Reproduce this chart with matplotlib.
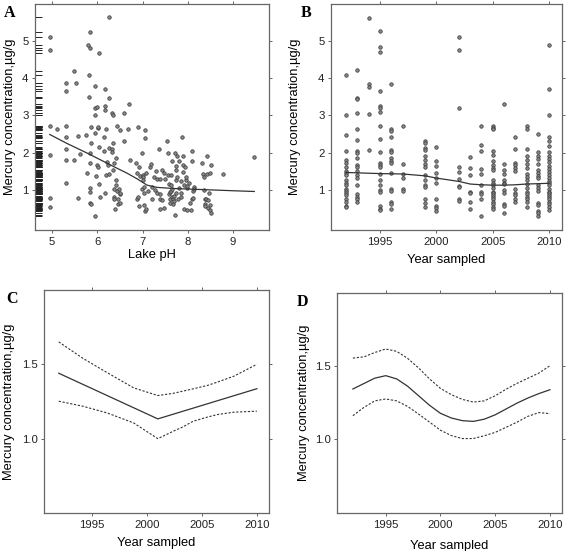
import matplotlib
matplotlib.use("Agg")
import matplotlib.pyplot as plt

plt.rcParams["font.family"] = ["Liberation Sans", "DejaVu Sans"]

# Panel A: lake pH vs mercury, written in matching chunks
ph_a = [4.95, 4.95, 4.95, 4.95, 4.96, 4.96, 5.1,
        5.3, 5.3, 5.3, 5.31, 5.31, 5.32, 5.31,
        5.48, 5.49, 5.54, 5.57, 5.58, 5.61,
        5.76, 5.78, 5.8, 5.82, 5.82, 5.85, 5.85, 5.83, 5.85, 5.86, 5.86, 5.84, 5.83, 5.85, 5.86,
        5.94, 5.95, 5.96, 5.95, 5.96, 5.97, 6.0, 5.99, 6.01, 6.04, 6.01, 6.01, 6.04, 6.04, 6.05,
        6.14, 6.14, 6.17, 6.16, 6.16, 6.17, 6.19, 6.2, 6.22, 6.23, 6.26, 6.26, 6.26, 6.27,
        6.32, 6.32, 6.33, 6.35, 6.35, 6.35, 6.36, 6.36, 6.36, 6.38, 6.39, 6.41, 6.41, 6.42,
        6.43, 6.43, 6.45, 6.45, 6.48, 6.51, 6.51, 6.51, 6.51,
        6.6, 6.6, 6.67, 6.7, 6.72,
        6.86, 6.88, 6.88, 6.89, 6.89, 6.92, 6.92, 6.95, 6.98, 6.98, 7.0, 7.0, 7.01, 7.025,
        7.04, 7.05, 7.04, 7.05, 7.05, 7.07, 7.07,
        7.13, 7.16, 7.19, 7.2, 7.22, 7.25, 7.28, 7.29, 7.32, 7.33, 7.37, 7.38, 7.38, 7.39,
        7.39, 7.44, 7.44, 7.47, 7.48, 7.5,
        7.54, 7.56, 7.57, 7.58, 7.58, 7.6, 7.6, 7.6, 7.62, 7.62, 7.63, 7.65, 7.66, 7.66,
        7.68, 7.68, 7.69, 7.7, 7.71, 7.72, 7.73, 7.73, 7.73, 7.75, 7.76, 7.76, 7.79, 7.8,
        7.81, 7.84, 7.85, 7.86, 7.88, 7.89, 7.89, 7.89, 7.91, 7.92, 7.94, 7.95, 7.97, 7.98,
        7.99, 7.99, 8.03, 8.06, 8.07, 8.09, 8.1, 8.1, 8.11, 8.11, 8.13, 8.14,
        8.32, 8.34, 8.35, 8.35, 8.37, 8.38, 8.39, 8.41, 8.43, 8.43, 8.44, 8.45, 8.48, 8.5,
        8.5, 8.51, 8.5, 8.51,
        8.78, 9.47]
hg_a = [5.1, 4.76, 2.72, 1.93, 0.78, 0.55, 2.63,
        3.86, 3.67, 2.72, 2.41, 2.11, 1.8, 1.2,
        4.2, 1.8, 3.86, 0.78, 2.45, 1.96,
        2.47, 1.45, 4.9, 4.1, 3.49, 5.24, 4.81, 2.0, 1.72, 2.7, 2.27, 1.05, 0.94, 0.66, 0.62,
        0.3, 2.52, 3.0, 3.2, 3.78, 1.37, 3.22, 1.66, 1.63, 4.67, 2.66, 2.7, 2.16, 1.16, 0.82,
        2.06, 2.43, 3.7, 3.25, 3.15, 0.91, 1.39, 2.65, 1.75, 1.68, 5.64, 3.47, 1.43, 2.13,
        2.09, 2.02, 3.06, 3.02, 2.25, 1.55, 1.72, 1.02, 0.8, 0.75, 0.48, 1.27, 1.14, 1.86,
        2.72, 0.98, 0.62, 0.75, 1.04, 0.9, 0.66, 0.93, 2.6,
        2.32, 3.06, 2.63, 3.31, 1.8,
        1.72, 1.45, 0.77, 2.7, 0.8, 1.61, 0.57, 1.38, 1.02, 1.98, 1.41, 1.36, 1.27, 0.93,
        0.59, 0.43, 1.09, 2.61, 2.4, 0.5, 1.45,
        0.96, 1.63, 1.7, 1.09, 0.75, 1.36, 1.0, 1.52, 0.91, 1.3, 2.09, 0.48, 0.9, 1.29,
        0.75, 0.73, 1.54, 1.45, 0.53, 1.29,
        2.32, 2.0, 1.39, 1.16, 0.9, 0.64, 0.75, 0.95, 0.96, 1.39, 1.13, 1.02, 1.77, 0.82,
        0.75, 0.62, 0.7, 0.84, 0.32, 2.0, 1.55, 0.93, 1.64, 1.27, 1.9, 1.36, 0.77, 1.05,
        1.77, 0.82, 1.25, 0.91, 2.43, 1.68, 1.91, 1.48, 0.48, 1.13, 1.63, 1.27, 1.36, 1.05,
        1.11, 0.46, 1.2, 0.66, 0.45, 0.75, 2.04, 1.77, 0.78, 0.98, 1.07, 1.02,
        1.72, 1.43, 1.36, 1.0, 0.62, 0.57, 0.77, 0.75, 1.91, 1.43, 0.73, 0.53, 0.91, 0.59,
        0.46, 1.68, 1.45, 0.37,
        1.43, 1.88]
fit_ph = [4.95, 5.33, 5.76, 6.07, 6.36, 6.66, 6.88, 7.1, 7.32, 7.69, 8.13, 8.57, 9.0, 9.47]
fit_a = [2.49, 2.25, 2.0, 1.81, 1.63, 1.45, 1.3, 1.13, 1.07, 1.04, 1.02, 1.0, 0.98, 0.96]

# Panel B: mercury by year sampled
hg_by_year = {
    1992: [4.09, 3.02, 2.47, 2.04, 1.81, 1.72, 1.63, 1.52, 1.45, 1.4, 1.27, 1.2, 1.14, 1.04,
           0.96, 0.93, 0.87, 0.77, 0.68, 0.58, 0.55],
    1993: [4.22, 3.48, 3.44, 3.08, 2.63, 2.33, 2.04, 2.0, 1.86, 1.67, 1.63, 1.5, 1.41, 1.32,
           1.14, 0.88, 0.82, 0.75, 0.69],
    1994: [5.62, 3.84, 3.77, 3.05, 2.08],
    1995: [5.27, 4.83, 4.7, 3.66, 3.26, 3.19, 3.1, 2.72, 2.37, 2.01, 1.72, 1.68, 1.61, 1.42,
           1.27, 1.14, 1.0, 0.95, 0.57, 0.5, 0.46],
    1996: [3.84, 2.64, 2.58, 2.41, 2.08, 2.01, 1.86, 1.79, 1.72, 1.45, 1.02, 0.96, 0.69,
           0.62, 0.48],
    1997: [2.72, 1.7, 1.43, 1.32, 1.02, 0.96],
    1999: [2.31, 2.25, 2.14, 2.07, 1.92, 1.81, 1.69, 1.61, 1.39, 1.27, 1.14, 1.07, 0.77,
           0.64, 0.55],
    2000: [2.15, 1.77, 1.65, 1.45, 1.32, 1.18, 0.77, 0.57, 0.53, 0.44],
    2002: [5.11, 4.77, 3.21, 1.63, 1.47, 1.3, 1.11, 1.07, 0.75, 0.71],
    2003: [1.88, 1.59, 1.41, 0.95, 0.91, 0.68, 0.48],
    2004: [2.72, 2.22, 2.04, 1.56, 1.43, 1.14, 0.95, 0.88, 0.75, 0.3],
    2005: [2.72, 2.67, 2.63, 2.04, 1.94, 1.79, 1.66, 1.59, 1.54, 1.27, 1.2, 1.14, 1.05, 0.95,
           0.91, 0.86, 0.82, 0.75, 0.68, 0.62, 0.55, 0.48],
    2006: [3.31, 1.7, 1.54, 1.42, 1.27, 1.2, 1.16, 1.0, 0.91, 0.62, 0.58, 0.37],
    2007: [2.42, 2.1, 1.72, 1.68, 1.59, 1.5, 1.02, 0.93, 0.86, 0.77, 0.68],
    2008: [2.72, 2.63, 2.1, 1.92, 1.81, 1.7, 1.59, 1.43, 1.34, 1.27, 1.16, 1.05, 0.95, 0.89,
           0.82, 0.75, 0.68, 0.55],
    2009: [2.51, 2.01, 1.92, 1.83, 1.7, 1.54, 1.45, 1.38, 1.32, 1.14, 1.05, 0.98, 0.64, 0.6,
           0.44, 0.37, 0.31],
    2010: [4.9, 3.71, 3.0, 2.42, 2.31, 2.17, 2.01, 1.92, 1.83, 1.74, 1.65, 1.56, 1.47, 1.41,
           1.33, 1.25, 1.18, 1.14, 1.02, 0.95, 0.91, 0.86, 0.8, 0.75, 0.68, 0.62, 0.55, 0.46],
}
fit_yr_b = [1992, 1995, 1997, 1999, 2000, 2002, 2003, 2004, 2005, 2006, 2007, 2008, 2010]
fit_b = [1.47, 1.44, 1.43, 1.38, 1.32, 1.23, 1.16, 1.14, 1.13, 1.13, 1.14, 1.16, 1.18]

# Panel C: linear spline fit with knot at 2001
yr_c = [1992, 2001, 2010]
fit_c = [1.44, 1.133, 1.336]
band_yr_c = [1992, 1994.2, 1996.4, 1998.8, 2001, 2002.4, 2003.3, 2004.2, 2005.5, 2006.4,
             2007.9, 2010]
upper_c = [1.651, 1.54, 1.444, 1.342, 1.29, 1.305, 1.32, 1.335, 1.358, 1.38, 1.42, 1.5]
lower_c = [1.252, 1.218, 1.173, 1.106, 1.0, 1.05, 1.08, 1.117, 1.145, 1.162, 1.178, 1.185]

# Panel D: smooth fit
yr_d = list(range(1992, 2011))
fit_d = [1.341, 1.378, 1.415, 1.432, 1.41, 1.36, 1.295, 1.23, 1.175, 1.143, 1.125, 1.12,
         1.135, 1.165, 1.205, 1.245, 1.28, 1.31, 1.336]
upper_d = [1.552, 1.56, 1.59, 1.614, 1.598, 1.55, 1.485, 1.41, 1.345, 1.302, 1.27, 1.252,
           1.26, 1.295, 1.34, 1.38, 1.415, 1.45, 1.5]
lower_d = [1.159, 1.215, 1.26, 1.273, 1.26, 1.222, 1.17, 1.115, 1.06, 1.023, 1.003, 1.003,
           1.022, 1.045, 1.08, 1.115, 1.155, 1.18, 1.173]

W, H = 568, 551
fig = plt.figure(figsize=(W / 100, H / 100), dpi=100)
frame = "#666666"
ink = "#333333"
ylab = "Mercury concentration,µg/g"


def make_axes(l, t, r, b):
    ax = fig.add_axes([l / W, (H - b) / H, (r - l) / W, (b - t) / H])
    for s in ax.spines.values():
        s.set_color(frame)
        s.set_linewidth(0.9)
    ax.tick_params(direction="out", length=2.2, width=0.7, color=frame, labelsize=8.2,
                   pad=2.5, top=True, right=True, labelcolor="#222222")
    return ax


def letter(x, y, s):
    fig.text(x / W, 1 - y / H, s, family=["Liberation Serif", "DejaVu Serif"],
             fontweight="bold", fontsize=11.5, va="top", ha="left")


pts = dict(ls="none", marker="o", ms=2.5, mfc="#8a8a8a", mec="#3a3a3a", mew=0.55)

# A
ax = make_axes(35, 4, 269, 230)
ax.plot(ph_a, hg_a, **pts)
ax.plot(fit_ph, fit_a, color=ink, lw=0.9)
ax.hlines(hg_a, 0, 0.032, transform=ax.get_yaxis_transform(), color="#222222", lw=0.7)
ax.set_xlim(4.624, 9.795)
ax.set_ylim(-0.074, 5.993)
ax.set_xticks([5, 6, 7, 8, 9])
ax.set_yticks([1, 2, 3, 4, 5])
ax.set_xlabel("Lake pH", fontsize=9.3)
ax.set_ylabel(ylab, fontsize=9.3)
ax.xaxis.set_label_coords(0.5, -0.082)
ax.yaxis.set_label_coords(-0.08, 0.5)
letter(4, 5, "A")

# B
ax = make_axes(331, 4, 562, 230)
for yr, vals in hg_by_year.items():
    ax.plot([yr] * len(vals), vals, **pts)
ax.plot(fit_yr_b, fit_b, color=ink, lw=0.9)
ax.set_xlim(1990.65, 2011.15)
ax.set_ylim(-0.074, 5.993)
ax.set_xticks([1995, 2000, 2005, 2010])
ax.set_yticks([1, 2, 3, 4, 5])
ax.set_xlabel("Year sampled", fontsize=9.3)
ax.set_ylabel(ylab, fontsize=9.3)
ax.xaxis.set_label_coords(0.5, -0.105)
ax.yaxis.set_label_coords(-0.128, 0.5)
letter(301, 5, "B")

# C
ax = make_axes(44, 290, 269, 513)
ax.plot(yr_c, fit_c, color=ink, lw=0.9)
ax.plot(band_yr_c, upper_c, color=ink, lw=0.8, ls=(0, (2, 1.5)))
ax.plot(band_yr_c, lower_c, color=ink, lw=0.8, ls=(0, (2, 1.5)))
ax.set_xlim(1990.66, 2011.1)
ax.set_ylim(0.5, 2.0)
ax.set_xticks([1995, 2000, 2005, 2010])
ax.set_yticks([1.0, 1.5])
ax.set_yticklabels(["1.0", "1.5"])
ax.set_xlabel("Year sampled", fontsize=9.3)
ax.set_ylabel(ylab, fontsize=9.3)
ax.xaxis.set_label_coords(0.5, -0.108)
ax.yaxis.set_label_coords(-0.129, 0.5)
letter(6, 291, "C")

# D
ax = make_axes(337, 293, 562, 513)
ax.plot(yr_d, fit_d, color=ink, lw=0.9)
ax.plot(yr_d, upper_d, color=ink, lw=0.8, ls=(0, (2, 1.5)))
ax.plot(yr_d, lower_d, color=ink, lw=0.8, ls=(0, (2, 1.5)))
ax.set_xlim(1990.55, 2011.1)
ax.set_ylim(0.495, 1.996)
ax.set_xticks([1995, 2000, 2005, 2010])
ax.set_yticks([1.0, 1.5])
ax.set_yticklabels(["1.0", "1.5"])
ax.set_xlabel("Year sampled", fontsize=9.3)
ax.set_ylabel(ylab, fontsize=9.3)
ax.xaxis.set_label_coords(0.5, -0.125)
ax.yaxis.set_label_coords(-0.12, 0.5)
letter(297, 294, "D")

fig.savefig("out.png", dpi=100)
